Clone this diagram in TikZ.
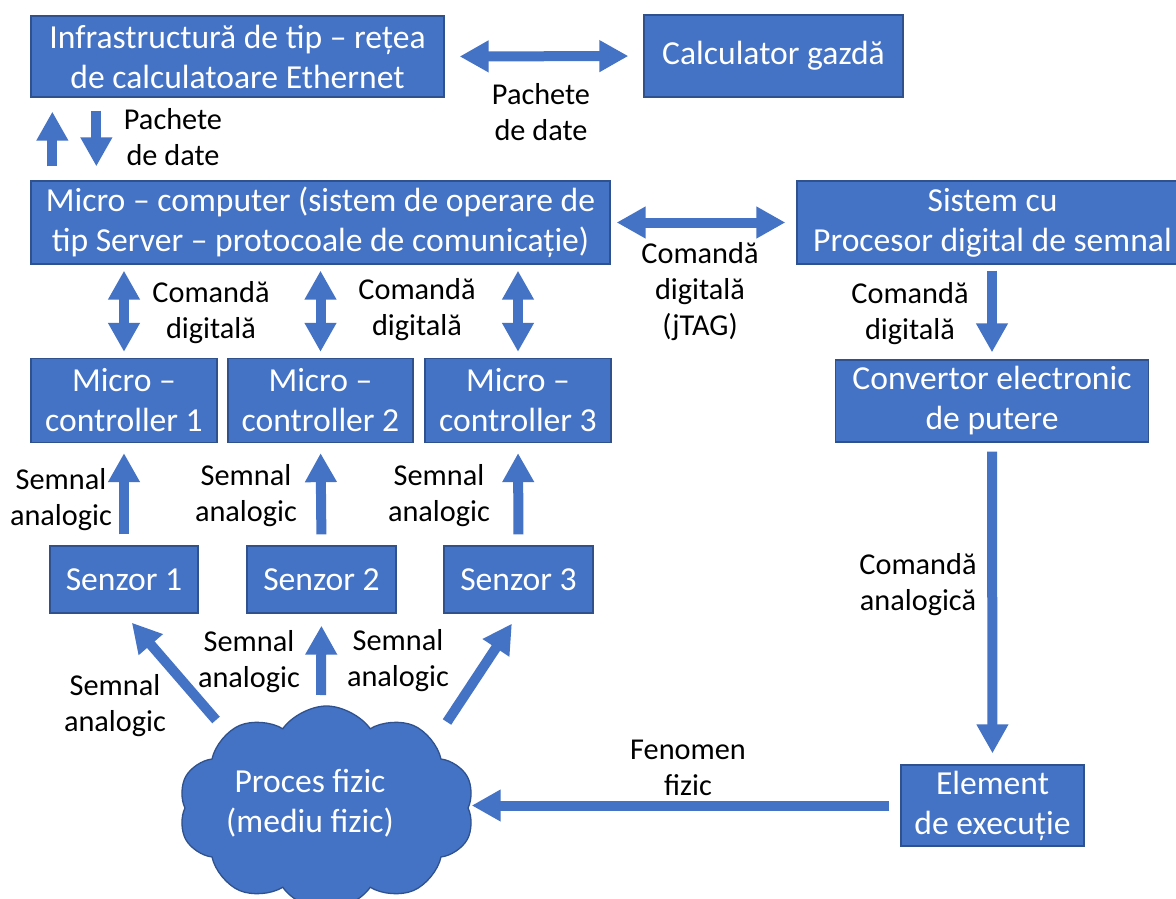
\documentclass[tikz,border=0pt]{standalone}
\usepackage{fontspec}
\setmainfont{Carlito}
\usetikzlibrary{arrows.meta,shapes.symbols,calc}
\definecolor{boxblue}{HTML}{4472C4}
\definecolor{boxedge}{HTML}{2F528F}
\newcommand\boxfont{\fontsize{33.6}{40}\selectfont}
\newcommand\lblfont{\fontsize{30.3}{36}\selectfont}
\begin{document}
\begin{tikzpicture}[x=1pt,y=-1pt,
  box/.style={draw=boxedge, line width=1.3pt, fill=boxblue, text=white, font=\boxfont, align=center, inner sep=0pt},
  lbl/.style={font=\lblfont, align=center, text=black, inner sep=0pt},
  arr/.style={draw=boxblue, line width=10pt, -{Triangle[width=30pt,length=29pt]}},
  darr/.style={draw=boxblue, line width=10pt, {Triangle[width=30pt,length=29pt]}-{Triangle[width=30pt,length=29pt]}}
]
\fill[white] (0,0) rectangle (1176,899);
\useasboundingbox (0,0) rectangle (1176,899);

% boxes
\node[box, minimum width=413pt, minimum height=81pt] (infra) at (237.5,56.5) {Infrastructură de tip – rețea\\de calculatoare Ethernet};
\node[box, minimum width=259pt, minimum height=82pt] (calc) at (773.5,56) {Calculator gazdă};
\node[box, minimum width=579pt, minimum height=83pt] (mcomp) at (320.5,222.5) {Micro – computer (sistem de operare de\\tip Server – protocoale de comunicație)};
\node[box, minimum width=391pt, minimum height=83pt] (dsp) at (992.5,222.5) {Sistem cu\\Procesor digital de semnal};
\node[box, minimum width=313pt, minimum height=82pt] (conv) at (992,401) {Convertor electronic\\de putere};
\node[box, minimum width=183pt, minimum height=81pt] (elem) at (992.5,805.5) {Element\\de execuție};

\node[box, minimum width=186pt, minimum height=84pt] (mc1) at (124,400.5) {Micro –\\controller 1};
\node[box, minimum width=185pt, minimum height=84pt] (mc2) at (320.5,400.5) {Micro –\\controller 2};
\node[box, minimum width=186pt, minimum height=84pt] (mc3) at (518,400.5) {Micro –\\controller 3};

\node[box, minimum width=148pt, minimum height=67pt] (s1) at (124,579.5) {Senzor 1};
\node[box, minimum width=149pt, minimum height=67pt] (s2) at (321.5,579.5) {Senzor 2};
\node[box, minimum width=149pt, minimum height=67pt] (s3) at (518.5,579.5) {Senzor 3};

% cloud
\node[cloud, cloud puffs=10, cloud puff arc=110, cloud ignores aspect, minimum width=296pt, minimum height=204pt,
      draw=boxedge, fill=boxblue, line width=1.3pt] (proc) at (326.5,808) {};
\node[font=\boxfont, text=white, align=center, inner sep=0pt] (proctext) at (310,803) {Proces fizic\\(mediu fizic)};

% labels
\node[lbl] (lp1) at (173,137) {Pachete\\de date};
\node[lbl] (lp2) at (541,112) {Pachete\\de date};
\node[lbl] (ljtag) at (700,292) {Comandă\\digitală\\(jTAG)};
\node[lbl] (lcd1) at (211,313) {Comandă\\digitală};
\node[lbl] (lcd2) at (417,310) {Comandă\\digitală};
\node[lbl] (lcd3) at (910,314) {Comandă\\digitală};
\node[lbl] (lsa1) at (61,500) {Semnal\\analogic};
\node[lbl] (lsa2) at (246,496) {Semnal\\analogic};
\node[lbl] (lsa3) at (439,496) {Semnal\\analogic};
\node[lbl] (lsa4) at (115,706) {Semnal\\analogic};
\node[lbl] (lsa5) at (249,662) {Semnal\\analogic};
\node[lbl] (lsa6) at (398,661) {Semnal\\analogic};
\node[lbl] (lca) at (918,585) {Comandă\\analogică};
\node[lbl] (lff) at (688,768) {Fenomen\\fizic};

% free ends on the cloud
\coordinate (pa) at (216,720);
\coordinate (pb) at (321,695);
\coordinate (pc) at (447,722);

% connectors
\draw[darr, shorten <=15pt, shorten >=15pt] (infra.east) -- (calc.west);
\draw[arr, shorten <=14pt, shorten >=14pt] ([xshift=22pt]mcomp.north west) -- ([xshift=22pt]infra.south west);
\draw[arr, shorten <=13pt, shorten >=14pt] ([xshift=66pt]infra.south west) -- ([xshift=66pt]mcomp.north west);
\draw[darr, shorten <=6pt, shorten >=11pt] (mcomp.east) -- (dsp.west);
\draw[darr, shorten <=6pt, shorten >=6pt] (mc1.north |- mcomp.south) -- (mc1.north);
\draw[darr, shorten <=6pt, shorten >=6pt] (mc2.north |- mcomp.south) -- (mc2.north);
\draw[darr, shorten <=6pt, shorten >=6pt] (mc3.north |- mcomp.south) -- (mc3.north);
\draw[arr, shorten <=6pt, shorten >=7pt] (conv.north |- dsp.south) -- (conv.north);
\draw[arr, shorten <=9pt, shorten >=11pt] (conv.south) -- (elem.north);
\draw[arr, shorten <=11pt, shorten >=3pt] (elem.west) -- (proc.east |- elem.west);
\draw[arr, shorten <=11pt, shorten >=10pt] (s1.north) -- (mc1.south);
\draw[arr, shorten <=11pt, shorten >=10pt] (s2.north) -- (mc2.south);
\draw[arr, shorten <=11pt, shorten >=10pt] (s3.north) -- (mc3.south);
\draw[arr, shorten >=12pt] (pa) -- (s1.south);
\draw[arr, shorten >=12pt] (pb) -- (s2.south);
\draw[arr, shorten >=12pt] (pc) -- (s3.south);
\end{tikzpicture}
\end{document}
